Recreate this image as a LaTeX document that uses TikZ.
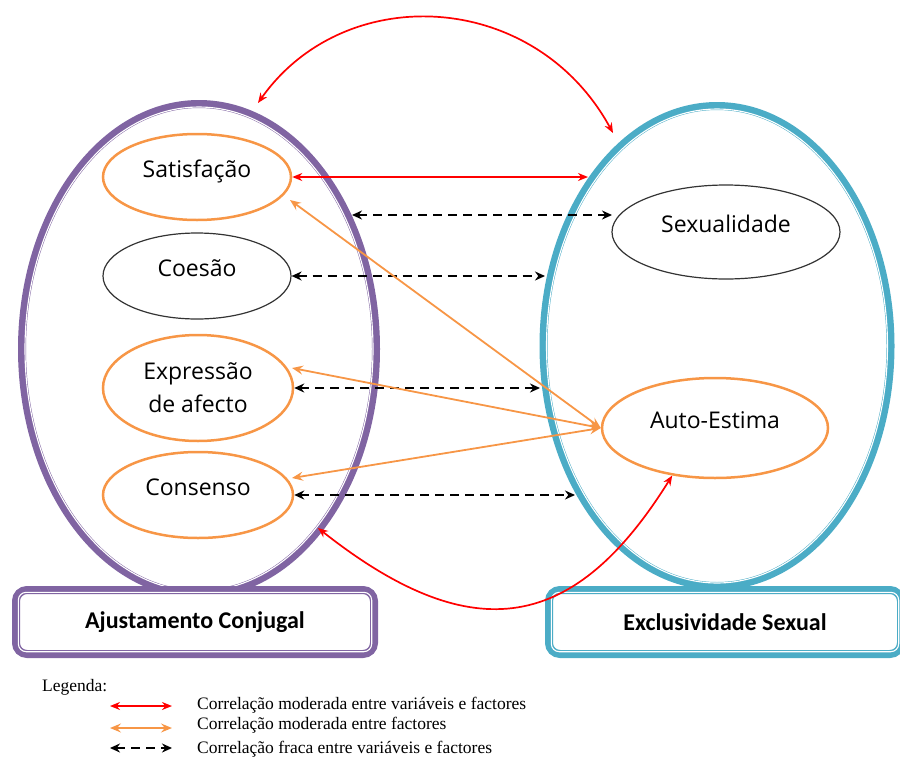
\documentclass[tikz,border=0pt]{standalone}
\usepackage{fontspec}
\setmainfont{Liberation Serif}
\newfontfamily\labfont{Open Sans}
\newfontfamily\titlefont{Carlito}
\usetikzlibrary{shapes.geometric,arrows.meta}
\definecolor{AjPurple}{HTML}{8064A2}
\definecolor{ExBlue}{HTML}{4BACC6}
\definecolor{FacOrange}{HTML}{F79646}
\tikzstyle{ring}=[ellipse,outer sep=0pt,inner sep=0pt,line width=8pt]
\tikzstyle{outerbox}=[rectangle,rounded corners=11pt,outer sep=0pt,line width=8pt,fill=white,font=\titlefont\bfseries\fontsize{24}{28}\selectfont]
\tikzstyle{factor}=[ellipse,draw=FacOrange,line width=2.5pt,inner sep=0pt,font=\labfont\fontsize{23}{33}\selectfont,align=center]
\tikzstyle{plainoval}=[ellipse,draw=black!80,line width=1.2pt,inner sep=0pt,font=\labfont\fontsize{23}{33}\selectfont]
\tikzstyle{raised}=[text height=9pt,text depth=9pt]
\tikzstyle{strong}=[{Stealth[length=10pt,width=8pt]}-{Stealth[length=10pt,width=8pt]},draw=red,line width=1.7pt]
\tikzstyle{mutual}=[{Stealth[length=11pt,width=9pt,inset=4pt]}-{Stealth[length=11pt,width=9pt,inset=4pt]},draw=FacOrange,line width=1.8pt]
\tikzstyle{weak}=[{Stealth[length=10pt,width=9pt]}-{Stealth[length=10pt,width=9pt]},draw=black,line width=2.4pt,dash pattern=on 9pt off 6pt]
\tikzstyle{legtext}=[anchor=west,inner sep=0pt,font=\fontsize{17.5}{19}\selectfont]

\begin{document}
\begin{tikzpicture}[x=1pt,y=-1pt]
  \useasboundingbox (0,0) rectangle (900,758);
  % the two big rings
  \node [style=ring,draw=AjPurple,minimum width=354pt,minimum height=490pt] (aj) at (199,349) {};
  \node [style=ring,draw=ExBlue,minimum width=347pt,minimum height=480pt] (ex) at (717,346) {};
  \draw [white,line width=1.1pt] (aj.center) ellipse [x radius=174pt,y radius=242pt];
  \draw [white,line width=1.1pt] (ex.center) ellipse [x radius=170.5pt,y radius=237pt];
  % titles
  \node [style=outerbox,draw=AjPurple,minimum width=358pt,minimum height=64pt] (ajbox) at (195,622) {Ajustamento Conjugal};
  \node [style=outerbox,draw=ExBlue,minimum width=352pt,minimum height=64pt] (exbox) at (725,622) {Exclusividade Sexual};
  \draw [white,line width=1.1pt,rounded corners=8pt] ([xshift=2.3pt,yshift=-2.3pt]ajbox.north west) rectangle ([xshift=-2.3pt,yshift=2.3pt]ajbox.south east);
  \draw [white,line width=1.1pt,rounded corners=8pt] ([xshift=2.3pt,yshift=-2.3pt]exbox.north west) rectangle ([xshift=-2.3pt,yshift=2.3pt]exbox.south east);
  % factors
  \node [style=factor,style=raised,minimum width=188pt,minimum height=86pt] (sat) at (197,177) {Satisfação};
  \node [style=plainoval,style=raised,minimum width=188pt,minimum height=86pt] (coe) at (197,276) {Coesão};
  \node [style=factor,minimum width=190pt,minimum height=106pt] (exp) at (198,388) {Expressão\\de afecto};
  \node [style=factor,style=raised,minimum width=190pt,minimum height=86pt] (con) at (198,495) {Consenso};
  \node [style=plainoval,style=raised,minimum width=228pt,minimum height=94pt] (sex) at (726,232) {Sexualidade};
  \node [style=factor,style=raised,minimum width=226pt,minimum height=100pt] (auto) at (715,428) {Auto-Estima};
  % free ends
  \coordinate (t1) at (258,103);
  \coordinate (t2) at (613,133);
  \coordinate (b1) at (318,528);
  \coordinate (rt) at (588,177);
  \coordinate (w1a) at (352,215);
  \coordinate (w1b) at (612,215);
  \coordinate (w2) at (545,276);
  \coordinate (w3) at (540,388);
  \coordinate (w4) at (575,495);
  \coordinate (o1) at (290,200);
  \coordinate (o2) at (292,368);
  \coordinate (o3) at (292,478);
  % correlations
  \draw [style=strong] (t1) .. controls (345,-20) and (535,-10) .. (t2);
  \draw [style=strong] (b1) .. controls (475,652) and (576,630) .. (auto.228);
  \draw [style=strong] (sat.east) to (rt);
  \draw [style=weak] (w1a) to (w1b);
  \draw [style=weak] (coe.east) to (w2);
  \draw [style=weak] (exp.east) to (w3);
  \draw [style=weak] (con.east) to (w4);
  \draw [style=mutual] (o1) to (auto.west);
  \draw [style=mutual] (o2) to (auto.west);
  \draw [style=mutual] (o3) to (auto.west);
  % legend
  \node [style=legtext] (leg) at (42,687) {Legenda:};
  \coordinate (l1a) at (110,706);
  \coordinate (l1b) at (172,706);
  \coordinate (l2a) at (110,728);
  \coordinate (l2b) at (172,728);
  \coordinate (l3a) at (110,748);
  \coordinate (l3b) at (172,748);
  \draw [style=strong] (l1a) to (l1b);
  \draw [style=mutual] (l2a) to (l2b);
  \draw [style=weak] (l3a) to (l3b);
  \node [style=legtext] (lt1) at (197,705) {Correlação moderada entre variáveis e factores};
  \node [style=legtext] (lt2) at (197,725) {Correlação moderada entre factores};
  \node [style=legtext] (lt3) at (197,749) {Correlação fraca entre variáveis e factores};
\end{tikzpicture}
\end{document}
